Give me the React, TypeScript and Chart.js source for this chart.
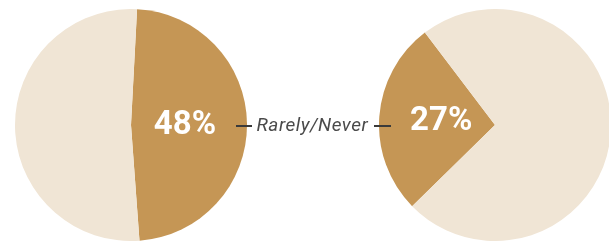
import React, { useEffect, useRef } from "react";
import { Chart, registerables } from "chart.js";

Chart.register(...registerables);

const categories = ["Rarely/Never", "Other"];
const leftValues = [48, 52];
const rightValues = [27, 73];
const leftRotation = 3;
const rightRotation = 225.6;
const labelText = "Rarely/Never";
const DARK = "#C59655";
const LIGHT = "#F0E5D5";

const pctLabel = {
  id: "pctLabel",
  afterDatasetsDraw(chart: any) {
    const meta = chart.getDatasetMeta(0);
    const arc = meta.data[0];
    if (!arc) return;
    const { x, y, startAngle, endAngle, outerRadius } = arc.getProps(
      ["x", "y", "startAngle", "endAngle", "outerRadius"],
      true
    );
    const mid = (startAngle + endAngle) / 2;
    const d = outerRadius * 0.465;
    const ctx = chart.ctx;
    ctx.save();
    ctx.fillStyle = "#ffffff";
    ctx.font = "bold 33px Roboto";
    ctx.textAlign = "center";
    ctx.textBaseline = "middle";
    const v = chart.data.datasets[0].data[0];
    ctx.fillText(v + "%", x + Math.cos(mid) * d, y + Math.sin(mid) * d + 1);
    ctx.restore();
  },
};

function Pie({ values, rotation, left, top }: { values: number[]; rotation: number; left: number; top: number }) {
  const ref = useRef<HTMLCanvasElement>(null);
  useEffect(() => {
    if (!ref.current) return;
    const chart = new Chart(ref.current, {
      type: "pie",
      data: {
        labels: categories,
        datasets: [
          {
            data: values,
            backgroundColor: [DARK, LIGHT],
            borderWidth: 0,
            hoverOffset: 0,
          },
        ],
      },
      options: {
        responsive: false,
        animation: false,
        rotation,
        layout: { padding: 0 },
        plugins: { legend: { display: false }, tooltip: { enabled: false } },
        events: [],
      },
      plugins: [pctLabel],
    });
    return () => chart.destroy();
  }, []);
  return (
    <canvas
      ref={ref}
      width={232}
      height={232}
      style={{ position: "absolute", left, top, width: 232, height: 232 }}
    />
  );
}

export default function App() {
  return (
    <div
      style={{
        position: "absolute",
        left: 0,
        top: 0,
        width: 609,
        height: 244,
        overflow: "hidden",
        background: "#ffffff",
      }}
    >
      <Pie values={leftValues} rotation={leftRotation} left={14.7} top={8.5} />
      <Pie values={rightValues} rotation={rightRotation} left={379} top={9} />
      <div style={{ position: "absolute", left: 236, top: 125, width: 16, height: 1.5, background: "#3a3a3a" }} />
      <div style={{ position: "absolute", left: 374, top: 125, width: 16.5, height: 1.5, background: "#3a3a3a" }} />
      <div
        style={{
          position: "absolute",
          left: 256.5,
          top: 113,
          fontFamily: "Roboto",
          fontStyle: "italic",
          fontSize: 19,
          lineHeight: "24px",
          color: "#4a4a4a",
          whiteSpace: "nowrap",
          letterSpacing: "0.5px",
        }}
      >
        {labelText}
      </div>
    </div>
  );
}
